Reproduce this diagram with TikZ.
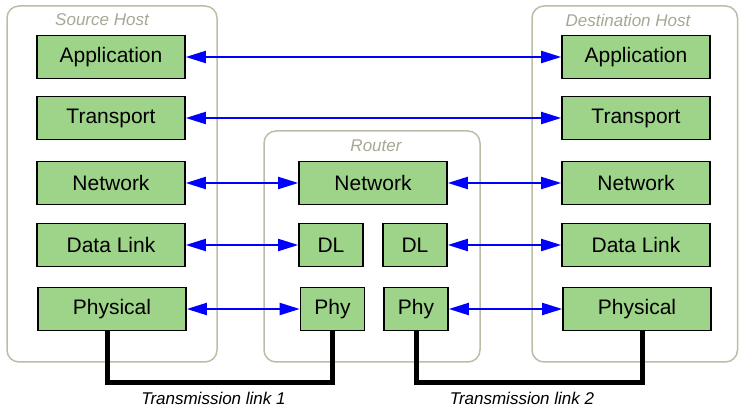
\documentclass[tikz,border=0pt]{standalone}
\usepackage{fontspec}
\setmainfont{Liberation Sans}
\usetikzlibrary{arrows.meta}
\definecolor{layergreen}{RGB}{158,212,138}
\definecolor{hostline}{RGB}{190,188,165}
\definecolor{hosttext}{RGB}{168,166,148}
\begin{document}
\begin{tikzpicture}[x=1pt,y=-1pt,
  layer/.style={draw=black,line width=1.6pt,fill=layergreen,minimum height=43pt,
    inner sep=0pt,font=\fontsize{21}{25}\selectfont},
  wide/.style={layer,minimum width=148pt},
  narrow/.style={layer,minimum width=64pt},
  host/.style={draw=hostline,line width=1.5pt,rounded corners=12pt},
  hostlabel/.style={text=hosttext,font=\fontsize{17}{20}\selectfont\itshape},
  peer/.style={blue,line width=2pt,{Triangle[length=20pt,width=12pt]}-{Triangle[length=20pt,width=12pt]}},
  wire/.style={black,line width=5pt},
  linklabel/.style={font=\fontsize{17}{20}\selectfont\itshape}]
\useasboundingbox (0,0) rectangle (739,411);

% enclosing devices
\draw[host] (7,6) rectangle (217,362);
\draw[host] (264,131) rectangle (480,362);
\draw[host] (532,6) rectangle (737.5,362);
\node[hostlabel] (srclbl) at (102,20) {Source Host};
\node[hostlabel] (rtrlbl) at (376,146) {Router};
\node[hostlabel] (dstlbl) at (628,20) {Destination Host};

% source host stack
\node[wide] (sapp) at (111,57) {Application};
\node[wide] (stra) at (111,118) {Transport};
\node[wide] (snet) at (111,183) {Network};
\node[wide] (sdl)  at (111,245) {Data Link};
\node[wide] (sphy) at (112,309) {Physical};

% router stack
\node[wide]   (rnet)  at (373,183) {Network};
\node[narrow] (rdl1)  at (331,245) {DL};
\node[narrow] (rdl2)  at (415,245) {DL};
\node[narrow] (rphy1) at (332.5,309) {Phy};
\node[narrow] (rphy2) at (416,309) {Phy};

% destination host stack
\node[wide] (dapp) at (636,57) {Application};
\node[wide] (dtra) at (636,118) {Transport};
\node[wide] (dnet) at (636,183) {Network};
\node[wide] (ddl)  at (636,245) {Data Link};
\node[wide] (dphy) at (637,309) {Physical};

% peer-to-peer exchanges
\draw[peer] (sapp.east) -- (dapp.west);
\draw[peer] (stra.east) -- (dtra.west);
\draw[peer] (snet.east) -- (rnet.west);
\draw[peer] (rnet.east) -- (dnet.west);
\draw[peer] (sdl.east) -- (rdl1.west);
\draw[peer] (rdl2.east) -- (ddl.west);
\draw[peer] (sphy.east) -- (rphy1.west);
\draw[peer] (rphy2.east) -- (dphy.west);

% physical transmission links
\coordinate (bus) at (0,383);
\coordinate (tap1) at ([xshift=-5pt]sphy.south);
\coordinate (tap2) at ([xshift=5pt]dphy.south);
\draw[wire] (tap1) -- (tap1 |- bus) -| (rphy1.south);
\draw[wire] (rphy2.south) -- (rphy2.south |- bus) -| (tap2);
\node[linklabel] (link1) at (213.5,398) {Transmission link 1};
\node[linklabel] (link2) at (522,398) {Transmission link 2};
\end{tikzpicture}
\end{document}
